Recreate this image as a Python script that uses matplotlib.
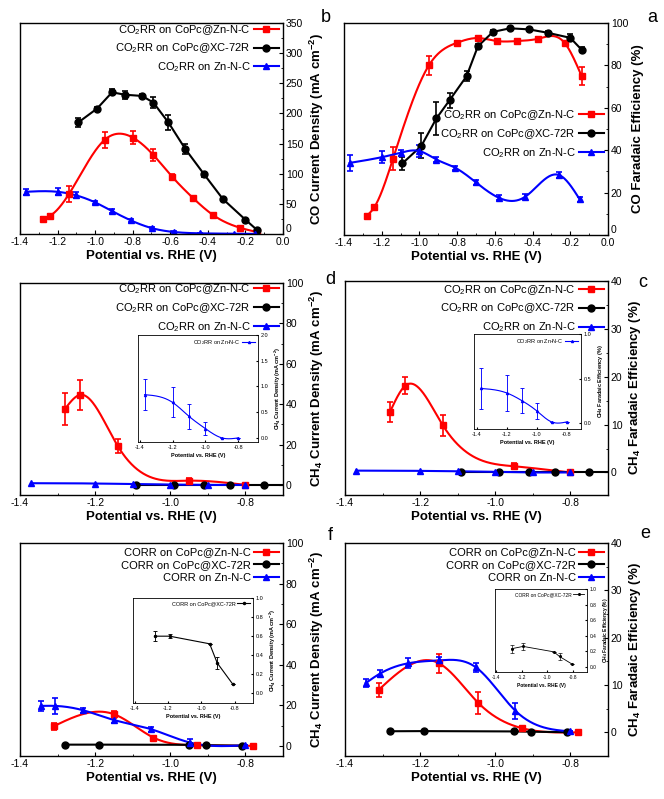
import numpy as np
import matplotlib
matplotlib.use('Agg')
import matplotlib.pyplot as plt
from matplotlib.ticker import MultipleLocator, FormatStrFormatter

plt.rcParams['font.family'] = ['Liberation Sans', 'DejaVu Sans']
plt.rcParams['mathtext.fontset'] = 'custom'
plt.rcParams['mathtext.rm'] = 'Liberation Sans'
plt.rcParams['mathtext.it'] = 'Liberation Sans:italic'
plt.rcParams['mathtext.bf'] = 'Liberation Sans:bold'
plt.rcParams['axes.unicode_minus'] = False

# ---- data (potential in V vs RHE) ----
pot_red = [-1.28, -1.24, -1.14, -0.95, -0.80, -0.69, -0.59, -0.48, -0.37, -0.23, -0.14]
pot_black = [-1.09, -0.99, -0.91, -0.84, -0.75, -0.69, -0.61, -0.52, -0.42, -0.32, -0.20, -0.14]
pot_blue = [-1.37, -1.20, -1.10, -1.00, -0.91, -0.81, -0.70, -0.58, -0.44, -0.26, -0.15]

# CO faradaic efficiency (%)
fe_co_red = [9, 13, 36, 80, 90.7, 92.9, 91.5, 91.5, 92.6, 90.6, 75]
fe_co_red_err = [1, 1, 5.3, 4.5, 1, 1, 1, 1, 1, 1, 4.2]
fe_co_black = [33.8, 42, 55, 63.6, 74.9, 89, 95.8, 97.5, 97, 95.4, 93, 87.4]
fe_co_black_err = [3, 5.9, 7.6, 3.5, 2.4, 1.3, 1, 0.8, 0.8, 0.8, 1.6, 1.3]
fe_co_blue = [34, 36.7, 38.8, 39.6, 35.6, 31.7, 24.8, 17.6, 18, 28.3, 16.8]
fe_co_blue_err = [3.7, 2.7, 1.5, 2.7, 1, 1, 1, 1.2, 1.2, 1.2, 1.2]

# CO current density (mA cm-2)
j_co_red = [25.4, 30.3, 66, 156, 160, 131, 95, 60, 31, 10.5, 3.3]
j_co_red_err = [3, 3, 13, 14, 10.5, 9.4, 4, 2, 2, 2, 1]
j_co_black = [185, 208, 235, 231, 229, 218, 185, 141, 99, 58, 23.7, 7.2]
j_co_black_err = [8, 3, 5, 7, 3, 9.6, 12, 7.7, 4, 3, 3, 3]
j_co_blue = [70, 70, 64, 52.4, 38, 22.6, 9.9, 3.3, 1.1, 0.5, 0.2]
j_co_blue_err = [5, 6, 5, 3, 3, 3, 2, 1, 0.5, 0.3, 0.3]

# CH4 from CO2RR
pot_ch4_red = [-1.28, -1.24, -1.14, -0.95, -0.80]
pot_ch4_blue = [-1.37, -1.20, -1.10, -1.00, -0.90, -0.80]
fe_ch4_red = [12.7, 18.1, 9.9, 1.3, 0]
fe_ch4_red_err = [2.1, 1.8, 2.2, 0.6, 0]
fe_ch4_black = [0, 0, 0, 0, 0, 0, 0, 0, 0, 0, 0, 0]
fe_ch4_blue = [0.39, 0.34, 0.255, 0.14, 0.015, 0.015]
fe_ch4_blue_err = [0.23, 0.2, 0.14, 0.09, 0, 0]
j_ch4_red = [37.7, 44.6, 19.3, 2.1, 0]
j_ch4_red_err = [7.8, 7.4, 3.6, 1.4, 0]
j_ch4_black = [0, 0, 0, 0, 0, 0, 0, 0, 0, 0, 0, 0]
j_ch4_blue = [0.84, 0.69, 0.42, 0.18, 0.0, 0.0]
j_ch4_blue_err = [0.3, 0.29, 0.24, 0.12, 0, 0]

# CH4 from CORR
pot_corr_red = [-1.31, -1.15, -1.045, -0.93, -0.78]
pot_corr_black = [-1.28, -1.19, -0.95, -0.905, -0.81]
pot_corr_blue = [-1.345, -1.307, -1.231, -1.151, -1.051, -0.947, -0.80]
fe_corr_red = [9.0, 14.6, 6.2, 0.9, 0]
fe_corr_red_err = [1.5, 2, 2.3, 0.5, 0]
fe_corr_black = [0.23, 0.26, 0.19, 0.13, 0.035]
fe_corr_black_err = [0.05, 0.04, 0, 0.04, 0]
fe_corr_blue = [10.4, 12.4, 14.6, 15.2, 13.7, 4.6, 0.2]
fe_corr_blue_err = [0.8, 0.8, 1, 0.7, 0.9, 1.7, 0]
j_corr_red = [9.7, 15.6, 4.1, 0.3, 0]
j_corr_red_err = [1.8, 1.8, 1, 0.3, 0]
j_corr_black = [0.60, 0.60, 0.52, 0.32, 0.094]
j_corr_black_err = [0.05, 0.02, 0, 0.06, 0]
j_corr_blue = [19.7, 19.7, 17.5, 12.8, 8.2, 1.6, 0.3]
j_corr_blue_err = [2.5, 4, 1.3, 1.5, 1.2, 1.9, 0]

lab_co2 = ['CO$_2$RR on CoPc@Zn-N-C', 'CO$_2$RR on CoPc@XC-72R', 'CO$_2$RR on Zn-N-C']
lab_co = ['CORR on CoPc@Zn-N-C', 'CORR on CoPc@XC-72R', 'CORR on Zn-N-C']

W, H = 664, 799


def spline(x, y, n=300):
    # natural cubic spline just for drawing the smooth connecting line
    x = np.asarray(x, float)
    y = np.asarray(y, float)
    h = np.diff(x)
    m = len(x)
    A = np.zeros((m, m))
    b = np.zeros(m)
    A[0, 0] = A[-1, -1] = 1
    for i in range(1, m - 1):
        A[i, i - 1] = h[i - 1]
        A[i, i] = 2 * (h[i - 1] + h[i])
        A[i, i + 1] = h[i]
        b[i] = 6 * ((y[i + 1] - y[i]) / h[i] - (y[i] - y[i - 1]) / h[i - 1])
    M = np.linalg.solve(A, b)
    xs = np.linspace(x[0], x[-1], n)
    k = np.clip(np.searchsorted(x, xs) - 1, 0, m - 2)
    t0 = x[k + 1] - xs
    t1 = xs - x[k]
    hk = h[k]
    ys = (M[k] * t0 ** 3 + M[k + 1] * t1 ** 3) / (6 * hk) \
        + (y[k] / hk - M[k] * hk / 6) * t0 + (y[k + 1] / hk - M[k + 1] * hk / 6) * t1
    return xs, ys


def series(ax, x, y, err, color, marker, label, smooth=True, ms=5, lw=1.5, cap=2.5):
    if smooth:
        xs, ys = spline(x, y)
    else:
        xs, ys = x, y
    ax.plot(xs, ys, color=color, lw=lw)
    ax.errorbar(x, y, yerr=err, fmt=marker, color=color, ms=ms, capsize=cap,
                elinewidth=lw * 0.8, capthick=lw * 0.8)
    ax.plot([], [], color=color, marker=marker, ms=ms, lw=lw, label=label)


def px_axes(x0, y0, x1, y1):
    return fig.add_axes([x0 / W, 1 - y1 / H, (x1 - x0) / W, (y1 - y0) / H])


def style(ax, xlim, ylim, xmaj, ymaj, ylabel, fs=7.5, lfs=9.5, bold=True, xminor=None, yminor=None):
    ax.set_xlim(*xlim)
    ax.set_ylim(*ylim)
    ax.yaxis.tick_right()
    ax.yaxis.set_label_position('right')
    ax.xaxis.set_major_locator(MultipleLocator(xmaj))
    ax.xaxis.set_major_formatter(FormatStrFormatter('%.1f'))
    ax.yaxis.set_major_locator(MultipleLocator(ymaj))
    if xminor:
        ax.xaxis.set_minor_locator(MultipleLocator(xminor))
    if yminor:
        ax.yaxis.set_minor_locator(MultipleLocator(yminor))
    ax.tick_params(which='both', direction='in', labelsize=fs, right=True, left=False,
                   top=False, bottom=True, pad=2)
    ax.tick_params(which='major', length=3 if fs > 6 else 1.5)
    ax.tick_params(which='minor', length=1.8 if fs > 6 else 1)
    w = 'bold' if bold else 'normal'
    ax.set_xlabel('Potential vs. RHE (V)', fontsize=lfs, fontweight=w, labelpad=2)
    ax.set_ylabel(ylabel, fontsize=lfs, fontweight=w, labelpad=3)
    for s in ax.spines.values():
        s.set_linewidth(1.0 if fs > 6 else 0.6)


def lift_zero(ax):
    # the y "0" and the x "0.0" share the corner; lift the y one a little
    fig.canvas.draw()
    for t in ax.yaxis.get_major_ticks():
        if t.label2.get_text() == '0':
            t.label2.set_va('bottom')


fig = plt.figure(figsize=(W / 100, H / 100), dpi=100)

fe_co_lab = 'CO Faradaic Efficiency (%)'
j_co_lab = r'CO Current Density (mA cm$\mathbf{^{-2}}$)'
fe_ch4_lab = r'CH$\mathbf{_4}$ Faradaic Efficiency (%)'
j_ch4_lab = r'CH$\mathbf{_4}$ Current Density (mA cm$\mathbf{^{-2}}$)'

# ---- a : CO FE ----
ax_a = px_axes(344, 23, 608, 235)
series(ax_a, pot_red, fe_co_red, fe_co_red_err, 'red', 's', lab_co2[0])
series(ax_a, pot_black, fe_co_black, fe_co_black_err, 'black', 'o', lab_co2[1], smooth=False)
series(ax_a, pot_blue, fe_co_blue, fe_co_blue_err, 'blue', '^', lab_co2[2])
style(ax_a, (-1.4, 0.0), (0, 100), 0.2, 20, fe_co_lab, xminor=0.1, yminor=10)
ax_a.legend(loc='center right', bbox_to_anchor=(1.0, 0.476), frameon=False, fontsize=8,
            markerfirst=False, handlelength=2.2, labelspacing=0.45, borderaxespad=0, handletextpad=0.3)

# ---- b : CO current density ----
ax_b = px_axes(20, 23, 283, 234)
series(ax_b, pot_red, j_co_red, j_co_red_err, 'red', 's', lab_co2[0])
series(ax_b, pot_black, j_co_black, j_co_black_err, 'black', 'o', lab_co2[1], smooth=False)
series(ax_b, pot_blue, j_co_blue, j_co_blue_err, 'blue', '^', lab_co2[2])
style(ax_b, (-1.4, 0.0), (0, 350), 0.2, 50, j_co_lab, xminor=0.1, yminor=25)
ax_b.legend(loc='center right', bbox_to_anchor=(1.0, 0.879), frameon=False, fontsize=8,
            markerfirst=False, handlelength=2.2, labelspacing=0.45, borderaxespad=0, handletextpad=0.3)

# ---- c : CH4 FE (CO2RR) ----
ax = px_axes(345, 281, 608, 495)
series(ax, pot_ch4_red, fe_ch4_red, fe_ch4_red_err, 'red', 's', lab_co2[0])
series(ax, pot_black, fe_ch4_black, None, 'black', 'o', lab_co2[1], smooth=False)
series(ax, pot_ch4_blue, fe_ch4_blue, None, 'blue', '^', lab_co2[2])
style(ax, (-1.4, -0.70), (-4.7, 40), 0.2, 10, fe_ch4_lab, xminor=0.1, yminor=5)
ax.legend(loc='center right', bbox_to_anchor=(1.0, 0.871), frameon=False, fontsize=8,
          markerfirst=False, handlelength=2.2, labelspacing=0.45, borderaxespad=0, handletextpad=0.3)

ins = px_axes(474, 334, 581, 429)
series(ins, pot_ch4_blue, fe_ch4_blue, fe_ch4_blue_err, 'blue', '^', lab_co2[2],
       ms=1.5, lw=0.8, cap=1.5)
style(ins, (-1.418, -0.704), (-0.064, 1.0), 0.2, 0.5, fe_ch4_lab, fs=4, lfs=4, bold=True)
ins.legend(loc='upper right', frameon=False, fontsize=4, markerfirst=False,
           handlelength=2.2, borderaxespad=0.2, handletextpad=0.3)

# ---- d : CH4 current density (CO2RR) ----
ax = px_axes(20, 283, 283, 495)
series(ax, pot_ch4_red, j_ch4_red, j_ch4_red_err, 'red', 's', lab_co2[0])
series(ax, pot_black, j_ch4_black, None, 'black', 'o', lab_co2[1], smooth=False)
series(ax, pot_ch4_blue, j_ch4_blue, None, 'blue', '^', lab_co2[2])
style(ax, (-1.4, -0.70), (-5, 100), 0.2, 20, j_ch4_lab, xminor=0.1, yminor=10)
ax.legend(loc='center right', bbox_to_anchor=(1.0, 0.882), frameon=False, fontsize=8,
          markerfirst=False, handlelength=2.2, labelspacing=0.45, borderaxespad=0, handletextpad=0.3)

ins = px_axes(138, 335, 258, 442)
series(ins, pot_ch4_blue, j_ch4_blue, j_ch4_blue_err, 'blue', '^', lab_co2[2],
       ms=1.5, lw=0.8, cap=1.5)
style(ins, (-1.41, -0.68), (-0.08, 2.0), 0.2, 0.5, j_ch4_lab, fs=4, lfs=4, bold=True)
ins.legend(loc='upper right', frameon=False, fontsize=4, markerfirst=False,
           handlelength=2.2, borderaxespad=0.2, handletextpad=0.3)

# ---- e : CH4 FE (CORR) ----
ax = px_axes(345, 543, 608, 756)
series(ax, pot_corr_red, fe_corr_red, fe_corr_red_err, 'red', 's', lab_co[0])
series(ax, pot_corr_black, fe_corr_black, None, 'black', 'o', lab_co[1], smooth=False)
series(ax, pot_corr_blue, fe_corr_blue, fe_corr_blue_err, 'blue', '^', lab_co[2])
style(ax, (-1.4, -0.70), (-5, 40), 0.2, 10, fe_ch4_lab, xminor=0.1, yminor=5)
ax.legend(loc='center right', bbox_to_anchor=(1.0, 0.895), frameon=False, fontsize=8,
          markerfirst=False, handlelength=2.2, labelspacing=0.25, borderaxespad=0, handletextpad=0.3)

ins = px_axes(495, 589, 587, 672)
series(ins, pot_corr_black, fe_corr_black, fe_corr_black_err, 'black', 'o', lab_co[1],
       smooth=False, ms=1.2, lw=0.6, cap=1.2)
style(ins, (-1.41, -0.69), (-0.07, 1.0), 0.2, 0.2, fe_ch4_lab, fs=3.5, lfs=3.5, bold=True)
ins.legend(loc='upper right', frameon=False, fontsize=3.5, markerfirst=False,
           handlelength=2.2, borderaxespad=0.2, handletextpad=0.3)

# ---- f : CH4 current density (CORR) ----
ax = px_axes(20, 543, 283, 756)
series(ax, pot_corr_red, j_corr_red, j_corr_red_err, 'red', 's', lab_co[0])
series(ax, pot_corr_black, j_corr_black, None, 'black', 'o', lab_co[1], smooth=False)
series(ax, pot_corr_blue, j_corr_blue, j_corr_blue_err, 'blue', '^', lab_co[2])
style(ax, (-1.4, -0.70), (-5, 100), 0.2, 20, j_ch4_lab, xminor=0.1, yminor=10)
ax.legend(loc='center right', bbox_to_anchor=(1.0, 0.895), frameon=False, fontsize=8,
          markerfirst=False, handlelength=2.2, labelspacing=0.25, borderaxespad=0, handletextpad=0.3)

ins = px_axes(133, 598, 253, 703)
series(ins, pot_corr_black, j_corr_black, j_corr_black_err, 'black', 'o', lab_co[1],
       smooth=False, ms=1.5, lw=0.8, cap=1.5)
style(ins, (-1.41, -0.69), (-0.1, 1.0), 0.2, 0.2, j_ch4_lab, fs=4, lfs=4, bold=True)
ins.legend(loc='upper right', frameon=False, fontsize=4, markerfirst=False,
           handlelength=2.2, borderaxespad=0.2, handletextpad=0.3)

# panel letters
for letter, (lx, ly) in zip('abcdef', [(652, 17), (326, 17), (643, 282),
                                       (330, 280), (645, 533), (330, 536)]):
    fig.text(lx / W, 1 - ly / H, letter, fontsize=13, ha='center', va='center')

lift_zero(ax_a)
lift_zero(ax_b)

fig.savefig('out.png', dpi=100)
